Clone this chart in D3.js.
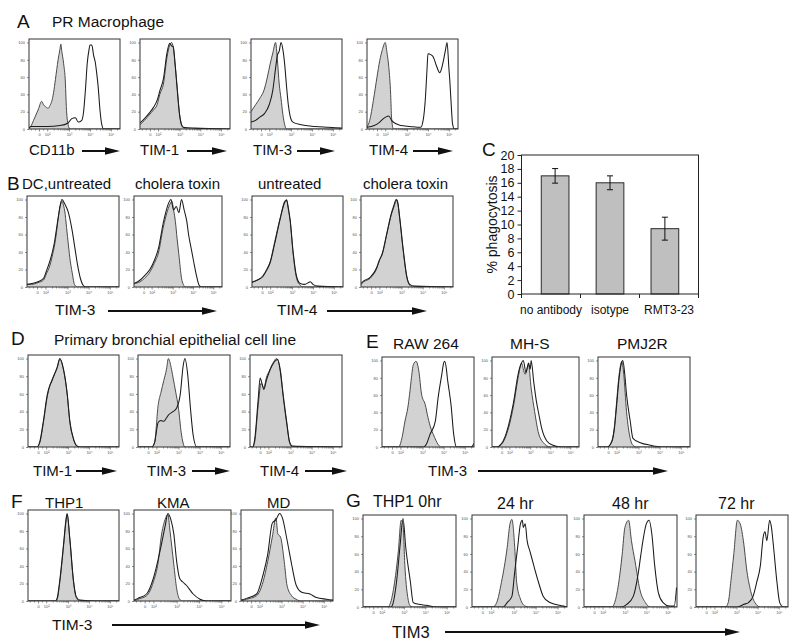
<!DOCTYPE html>
<html><head><meta charset="utf-8">
<script src="https://cdn.jsdelivr.net/npm/d3@7/dist/d3.min.js"></script>
<style>
body{margin:0;background:#fff;}
svg text{font-family:"Liberation Sans",Arial,Helvetica,sans-serif;fill:#111;}
</style></head><body>
<svg id="fig" width="800" height="643"></svg>
<script>
// ---------------- DATA ----------------
// Histogram axes (channel units 0-100 across each plot, % of max on y)
const histXTicks = [11, 20, 44, 67, 90];
const histXTickLabels = ["0", "10\u00b2", "10\u00b3", "10\u2074", "10\u2075"];
const histYTicks = [0, 20, 40, 60, 80, 100];

// Panel A – PR macrophage (isotype = grey filled, stained = open line)
const A1_isotype = [[0,1],[2,3],[5,10],[10,22],[14,32],[16,28],[18,26],[21,24],[23,27],[25,32],[27,42],[29,57],[32,80],[34,92],[35,98],[36,90],[38,76],[40,53],[41,26],[43,5],[45,0],[100,0]];
const A1_stained = [[0,1],[2,3],[10,3],[20,3],[34,4],[43,7],[47,12],[51,13],[54,8],[58,10],[60,20],[62,45],[64,76],[66,92],[67,97],[69,97],[71,85],[73,76],[74,68],[76,49],[78,22],[80,5],[82,0],[100,0]];
const A2_isotype = [[0,5],[5,10],[10,16],[15,22],[19,28],[22,40],[26,52],[30,83],[33,97],[35,100],[37,94],[39,75],[41,52],[44,17],[46,6],[48,2],[50,0],[100,0]];
const A2_stained = [[0,7],[5,12],[10,18],[15,25],[19,33],[22,44],[26,58],[30,88],[33,99],[35,96],[37,95],[39,75],[41,50],[44,16],[46,5],[48,2],[60,1],[100,0]];
const A3_isotype = [[0,20],[5,28],[10,36],[14,44],[18,60],[21,75],[24,88],[27,100],[29,80],[31,52],[33,35],[35,17],[37,5],[39,0],[100,0]];
const A3_stained = [[0,8],[5,10],[10,14],[15,18],[20,28],[24,45],[27,70],[29,85],[31,90],[33,100],[35,92],[37,75],[39,50],[41,28],[43,15],[46,8],[55,5],[70,3],[85,2],[100,1]];
const A4_isotype = [[0,2],[3,10],[7,33],[11,60],[14,79],[17,92],[20,100],[22,88],[24,71],[26,40],[27,13],[29,0],[100,0]];
const A4_stained = [[0,2],[8,4],[14,8],[18,12],[21,14],[24,15],[27,10],[32,6],[37,4],[47,3],[59,2],[62,12],[64,33],[66,70],[67,87],[70,86],[73,83],[76,74],[80,65],[82,70],[84,79],[86,90],[88,100],[90,70],[91,56],[93,20],[94,6],[96,0],[100,0]];

// Panel B – DC, TIM-3 and TIM-4
const B1_isotype = [[0,3],[5,3],[12,5],[18,8],[21,15],[25,25],[28,38],[30,48],[32,62],[34,79],[36,92],[38,98],[40,92],[41,87],[43,68],[45,48],[47,30],[49,17],[52,2],[55,0],[100,0]];
const B1_stained = [[0,3],[5,4],[12,6],[18,10],[21,18],[25,30],[28,42],[30,52],[32,66],[34,80],[36,93],[38,100],[41,95],[45,85],[49,65],[52,45],[55,25],[58,10],[61,2],[64,0],[100,0]];
const B2_isotype = [[0,4],[7,6],[12,10],[18,17],[23,27],[28,40],[33,67],[36,80],[39,90],[41,95],[43,98],[45,88],[47,75],[49,55],[51,37],[54,10],[56,3],[58,0],[100,0]];
const B2_stained = [[0,4],[7,8],[12,13],[18,20],[23,30],[28,45],[33,72],[36,85],[39,95],[42,100],[45,88],[48,92],[51,85],[54,100],[57,88],[60,75],[62,60],[65,44],[68,28],[71,13],[74,2],[77,0],[100,0]];
const B3_isotype = [[0,6],[6,8],[12,13],[16,20],[20,29],[25,52],[31,79],[36,98],[38,100],[40,88],[42,75],[45,40],[49,10],[53,2],[56,0],[100,0]];
const B3_stained = [[0,5],[6,8],[12,12],[16,19],[20,28],[25,50],[31,78],[36,97],[38,99],[40,90],[42,76],[45,42],[49,12],[53,4],[58,3],[62,5],[64,6],[67,3],[72,1],[100,0]];
const B4_isotype = [[0,3],[3,6],[10,10],[17,21],[20,30],[23,37],[28,60],[33,83],[36,92],[39,100],[42,79],[46,40],[50,10],[53,2],[56,0],[100,0]];
const B4_stained = [[0,4],[3,7],[10,11],[17,22],[20,31],[23,38],[28,61],[33,84],[36,94],[38,100],[40,96],[42,80],[46,42],[50,11],[53,3],[58,1],[100,0]];

// Panel C – phagocytosis bar chart
const phagoCategories = ["no antibody", "isotype", "RMT3-23"];
const phagoValues = [17.0, 16.0, 9.4];
const phagoErrors = [1.05, 1.0, 1.65];
const phagoYTicks = [0, 2, 4, 6, 8, 10, 12, 14, 16, 18, 20];

// Panel D – primary bronchial epithelial cell line
const D1_isotype = [[0,0],[10,0],[13,5],[17,28],[21,56],[26,75],[32,89],[35,99],[39,87],[43,60],[46,28],[50,9],[54,1],[57,0],[100,0]];
const D1_stained = [[0,0],[10,0],[13,6],[17,30],[21,58],[24,70],[26,74],[29,82],[32,90],[35,100],[39,88],[43,61],[46,29],[50,9],[54,1],[57,0],[100,0]];
const D2_isotype = [[0,0],[15,0],[18,5],[22,48],[25,62],[28,75],[31,88],[33,100],[36,90],[38,79],[41,62],[44,44],[47,16],[51,0],[100,0]];
const D2_stained = [[0,0],[15,0],[18,5],[22,28],[25,30],[28,29],[31,33],[33,36],[38,40],[42,44],[46,60],[49,91],[51,100],[54,82],[57,44],[60,13],[64,0],[100,0]];
const D3_isotype = [[0,0],[3,0],[5,5],[9,48],[12,72],[15,67],[18,79],[21,86],[24,93],[29,100],[33,87],[36,60],[40,28],[43,5],[46,0],[100,0]];
const D3_stained = [[0,0],[3,0],[5,8],[9,55],[11,78],[13,72],[15,65],[18,76],[21,85],[24,92],[28,98],[30,99],[33,85],[36,58],[40,26],[43,6],[46,1],[100,0]];

// Panel E – mouse macrophage lines
const E1_isotype = [[0,0],[18,0],[22,12],[25,30],[28,45],[30,61],[32,80],[34,95],[37,99],[40,88],[43,61],[47,49],[50,34],[53,22],[56,14],[61,3],[64,0],[100,0]];
const E1_stained = [[0,0],[45,0],[49,5],[52,14],[58,30],[61,57],[65,84],[67,97],[68,99],[70,90],[71,80],[73,65],[75,49],[78,14],[81,0],[97,0],[100,4]];
const E2_isotype = [[0,0],[5,0],[11,3],[15,10],[19,22],[25,49],[30,80],[34,97],[36,90],[38,84],[42,95],[45,68],[49,41],[53,18],[59,5],[67,0],[100,0]];
const E2_stained = [[0,0],[5,0],[11,4],[15,12],[19,25],[25,53],[30,84],[33,95],[36,100],[39,86],[42,97],[44,90],[45,100],[48,75],[51,53],[54,37],[57,22],[63,7],[70,2],[80,0],[100,0]];
const E3_isotype = [[0,0],[10,0],[15,7],[18,25],[20,49],[23,84],[26,99],[28,84],[31,41],[35,10],[38,2],[42,0],[100,0]];
const E3_stained = [[0,0],[10,0],[15,6],[18,23],[20,45],[23,80],[25,95],[27,100],[29,85],[31,61],[35,30],[38,10],[46,5],[57,2],[70,0],[100,0]];

// Panel F – human cell lines
const F1_isotype = [[0,0],[30,0],[32,2],[35,22],[39,62],[42,93],[43,99],[46,70],[50,22],[53,4],[57,0],[100,0]];
const F1_stained = [[0,0],[30,0],[32,3],[35,24],[39,64],[42,95],[43,100],[46,71],[50,23],[53,5],[57,1],[75,0],[100,0]];
const F2_isotype = [[0,0],[4,2],[13,6],[20,22],[25,45],[28,73],[32,93],[35,99],[37,81],[41,42],[44,14],[47,2],[50,0],[100,0]];
const F2_stained = [[0,1],[4,3],[13,8],[20,26],[27,58],[32,85],[35,100],[38,93],[41,77],[44,45],[47,26],[50,22],[54,18],[61,8],[68,2],[75,0],[100,0]];
const F3_isotype = [[0,0],[6,2],[17,6],[24,22],[29,45],[34,73],[38,95],[40,77],[43,73],[47,45],[50,18],[55,6],[60,2],[65,0],[100,0]];
const F3_stained = [[0,1],[6,3],[17,8],[24,30],[29,53],[34,89],[38,93],[42,100],[45,95],[50,70],[55,42],[60,18],[66,10],[75,8],[82,4],[93,2],[100,1]];

// Panel G – THP1 time course
const G1_isotype = [[0,0],[27,0],[29,3],[34,28],[38,63],[41,98],[43,94],[45,47],[48,12],[51,1],[54,0],[100,0]];
const G1_stained = [[0,0],[30,0],[32,3],[36,28],[40,71],[43,100],[46,67],[51,28],[54,5],[60,3],[68,2],[78,0],[100,0]];
const G2_isotype = [[0,0],[22,0],[26,5],[31,28],[37,67],[40,94],[42,99],[45,67],[47,28],[51,9],[56,1],[60,0],[100,0]];
const G2_stained = [[0,0],[33,0],[37,5],[42,12],[45,40],[48,67],[51,94],[53,98],[54,90],[56,94],[58,75],[61,63],[65,47],[70,28],[75,12],[82,5],[96,1],[100,0]];
const G3_isotype = [[0,0],[30,0],[33,5],[37,25],[41,59],[44,90],[48,98],[51,75],[55,51],[60,20],[66,5],[71,0],[100,0]];
const G3_stained = [[0,0],[40,0],[46,3],[53,12],[58,36],[61,58],[64,79],[67,94],[70,98],[73,82],[76,47],[80,16],[85,5],[92,1],[97,1],[99.5,22]];
const G4_isotype = [[0,0],[32,0],[35,5],[38,30],[41,59],[45,98],[48,94],[52,71],[55,43],[59,20],[64,5],[70,0],[100,0]];
const G4_stained = [[0,0],[45,0],[52,3],[57,5],[62,12],[66,28],[70,47],[73,79],[75,85],[77,75],[80,98],[82,90],[84,71],[88,28],[91,5],[95,0],[100,0]];

// ---------------- LAYOUT ----------------
const histBoxes = {
  A1:[29,39,91,90], A2:[140,39,90,90], A3:[251,39,91,90], A4:[367,39,91,90],
  B1:[27,196,92,91], B2:[134,196,88,91], B3:[252,196,91,91], B4:[361,196,92,91],
  D1:[28,355,91,92], D2:[138,355,92,92], D3:[250,355,92,92],
  E1:[382,357,92,90], E2:[492,357,87,90], E3:[598,357,92,90],
  F1:[28,510,91,91], F2:[134,510,97,91], F3:[241,510,92,91],
  G1:[363,515,93,92], G2:[472,515,95,92], G3:[584,515,93,92], G4:[696,515,92,92]
};
const histograms = [
  ["A1",A1_isotype,A1_stained],["A2",A2_isotype,A2_stained],["A3",A3_isotype,A3_stained],["A4",A4_isotype,A4_stained],
  ["B1",B1_isotype,B1_stained],["B2",B2_isotype,B2_stained],["B3",B3_isotype,B3_stained],["B4",B4_isotype,B4_stained],
  ["D1",D1_isotype,D1_stained],["D2",D2_isotype,D2_stained],["D3",D3_isotype,D3_stained],
  ["E1",E1_isotype,E1_stained],["E2",E2_isotype,E2_stained],["E3",E3_isotype,E3_stained],
  ["F1",F1_isotype,F1_stained],["F2",F2_isotype,F2_stained],["F3",F3_isotype,F3_stained],
  ["G1",G1_isotype,G1_stained],["G2",G2_isotype,G2_stained],["G3",G3_isotype,G3_stained],["G4",G4_isotype,G4_stained]
];

const texts = [
  ["A",17,28,19],["PR Macrophage",52,27,15.5],
  ["CD11b",29,155,15],["TIM-1",140,155,15],["TIM-3",253,155,15],["TIM-4",369,155,15],
  ["B",7,190,19],["DC,untreated",22,189,15],["cholera toxin",135,189,15],["untreated",258,189,15],["cholera toxin",363,189,15],
  ["TIM-3",55,315,15.5],["TIM-4",277,315,15.5],
  ["C",482,156,19],
  ["D",11,345,19],["Primary bronchial epithelial cell line",54,345,15.5],
  ["E",366,348,19],["RAW 264",393,349,15.5],["MH-S",510,349,15.5],["PMJ2R",617,349,15.5],
  ["TIM-1",33,476,15],["TIM-3",147,476,15],["TIM-4",260,476,15],["TIM-3",428,476,15],
  ["F",11,508,19],["THP1",45,508,15],["KMA",157,508,15],["MD",267,508,15],
  ["TIM-3",52,630,15.5],
  ["G",346,507,19],["THP1 0hr",373,507,16],["24 hr",497,509,16],["48 hr",612,509,16],["72 hr",718,509,16],
  ["TIM3",392,638,16.5]
];
const arrows = [
  [82,120,151],[187,227,151],[297,335,151],[413,453,151],
  [108,217,311],[327,427,311],
  [76,117,471],[192,230,471],[305,347,471],[478,668,471],
  [112,320,625],[445,740,632]
];

// ---------------- DRAW ----------------
const svg = d3.select("#fig");
svg.append("rect").attr("width",800).attr("height",643).attr("fill","#fff");

histograms.forEach(([id, iso, stain]) => {
  const [bx, by, bw, bh] = histBoxes[id];
  const x = d3.scaleLinear().domain([0,100]).range([bx, bx+bw]);
  const y = d3.scaleLinear().domain([0,104]).range([by+bh, by]);
  const g = svg.append("g");
  g.append("clipPath").attr("id","clip"+id).append("rect")
    .attr("x",bx).attr("y",by).attr("width",bw).attr("height",bh);
  const c = g.append("g").attr("clip-path",`url(#clip${id})`);
  const area = d3.area().x(d=>x(d[0])).y0(y(0)).y1(d=>y(d[1])).curve(d3.curveMonotoneX);
  const line = d3.line().x(d=>x(d[0])).y(d=>y(d[1])).curve(d3.curveMonotoneX);
  c.append("path").attr("d",area(iso)).attr("fill","#d2d2d2");
  c.append("path").attr("d",line(iso)).attr("fill","none").attr("stroke","#4a4a4a").attr("stroke-width",1);
  c.append("path").attr("d",line(stain)).attr("fill","none").attr("stroke","#1a1a1a").attr("stroke-width",1.05);
  g.append("rect").attr("x",bx).attr("y",by).attr("width",bw).attr("height",bh)
    .attr("fill","none").attr("stroke","#333").attr("stroke-width",1);
  // y axis
  g.append("g").attr("transform",`translate(${bx},0)`)
    .call(d3.axisLeft(y).tickValues(histYTicks).tickSize(2).tickPadding(2));
  // x axis
  g.append("g").attr("transform",`translate(0,${by+bh})`)
    .call(d3.axisBottom(x).tickValues(histXTicks).tickFormat((d,i)=>histXTickLabels[i]).tickSize(2.5).tickPadding(2));
  const minor = [];
  for (let i = 1; i < histXTicks.length-1; i++) {
    const a = histXTicks[i], b = histXTicks[i+1];
    for (let k = 2; k <= 9; k++) minor.push(a + (b-a)*Math.log10(k));
  }
  for (let k = 2; k <= 4; k++) minor.push(histXTicks[4] + (histXTicks[4]-histXTicks[3])*Math.log10(k));
  minor.push(15.5, 6.5, 2);
  g.append("g").attr("transform",`translate(0,${by+bh})`)
    .call(d3.axisBottom(x).tickValues(minor.filter(v=>v<100)).tickSize(1.5).tickFormat(""));
  g.selectAll(".domain").remove();
  g.selectAll(".tick line").attr("stroke","#444").attr("stroke-width",0.6);
  g.selectAll(".tick text").attr("font-size",4).style("fill","#555");
});

// Panel C bar chart
const cLeft = 521.5, cRight = 698.5, cTop = 155, cBottom = 294;
const cx = d3.scaleBand().domain(phagoCategories).range([cLeft, cRight]).paddingInner(0.495).paddingOuter(0.36);
const cxAxis = d3.scaleBand().domain(phagoCategories).range([cLeft, cRight]);
const cy = d3.scaleLinear().domain([0,20]).range([cBottom, cTop]);
const cg = svg.append("g");
cg.selectAll("rect.bar").data(phagoValues).join("rect").attr("class","bar")
  .attr("x",(d,i)=>cx(phagoCategories[i])).attr("width",cx.bandwidth())
  .attr("y",d=>cy(d)).attr("height",d=>cy(0)-cy(d))
  .attr("fill","#bfbfbf").attr("stroke","#2a2a2a").attr("stroke-width",1);
phagoValues.forEach((v,i) => {
  const xc = cx(phagoCategories[i]) + cx.bandwidth()/2;
  const e = phagoErrors[i];
  cg.append("line").attr("x1",xc).attr("x2",xc).attr("y1",cy(v-e)).attr("y2",cy(v+e)).attr("stroke","#111").attr("stroke-width",1);
  [v-e, v+e].forEach(t => cg.append("line").attr("x1",xc-3).attr("x2",xc+3).attr("y1",cy(t)).attr("y2",cy(t)).attr("stroke","#111").attr("stroke-width",1));
});
cg.append("rect").attr("x",cLeft).attr("y",cTop).attr("width",cRight-cLeft).attr("height",cBottom-cTop)
  .attr("fill","none").attr("stroke","#222").attr("stroke-width",1);
const cya = cg.append("g").attr("transform",`translate(${cLeft},0)`)
  .call(d3.axisLeft(cy).tickValues(phagoYTicks).tickSize(4).tickPadding(3));
cya.select(".domain").remove();
cya.selectAll("text").attr("font-size",12.5);
cya.selectAll("line").attr("stroke","#222");
const cxa = cg.append("g").attr("transform",`translate(0,${cBottom})`)
  .call(d3.axisBottom(cxAxis).tickSize(0).tickPadding(11));
cxa.select(".domain").remove();
cxa.selectAll("text").attr("font-size",12);
[0,1,2,3].forEach(k => {
  const xv = cLeft + (cRight-cLeft)*k/3;
  cg.append("line").attr("x1",xv).attr("x2",xv).attr("y1",cBottom).attr("y2",cBottom+4).attr("stroke","#222");
});
cg.append("text").attr("transform",`translate(497,${(cTop+cBottom)/2}) rotate(-90)`)
  .attr("text-anchor","middle").attr("font-size",14).text("% phagocytosis");

// labels
svg.append("g").selectAll("text").data(texts).join("text")
  .attr("x",d=>d[1]).attr("y",d=>d[2]).attr("font-size",d=>d[3]).text(d=>d[0]);

// arrows
const ag = svg.append("g");
arrows.forEach(([x1,x2,yy]) => {
  ag.append("line").attr("x1",x1).attr("x2",x2-10).attr("y1",yy).attr("y2",yy).attr("stroke","#111").attr("stroke-width",2);
  ag.append("path").attr("d",`M${x2-15},${yy-3.8}L${x2},${yy}L${x2-15},${yy+3.8}Z`).attr("fill","#111");
});
</script>
</body></html>
